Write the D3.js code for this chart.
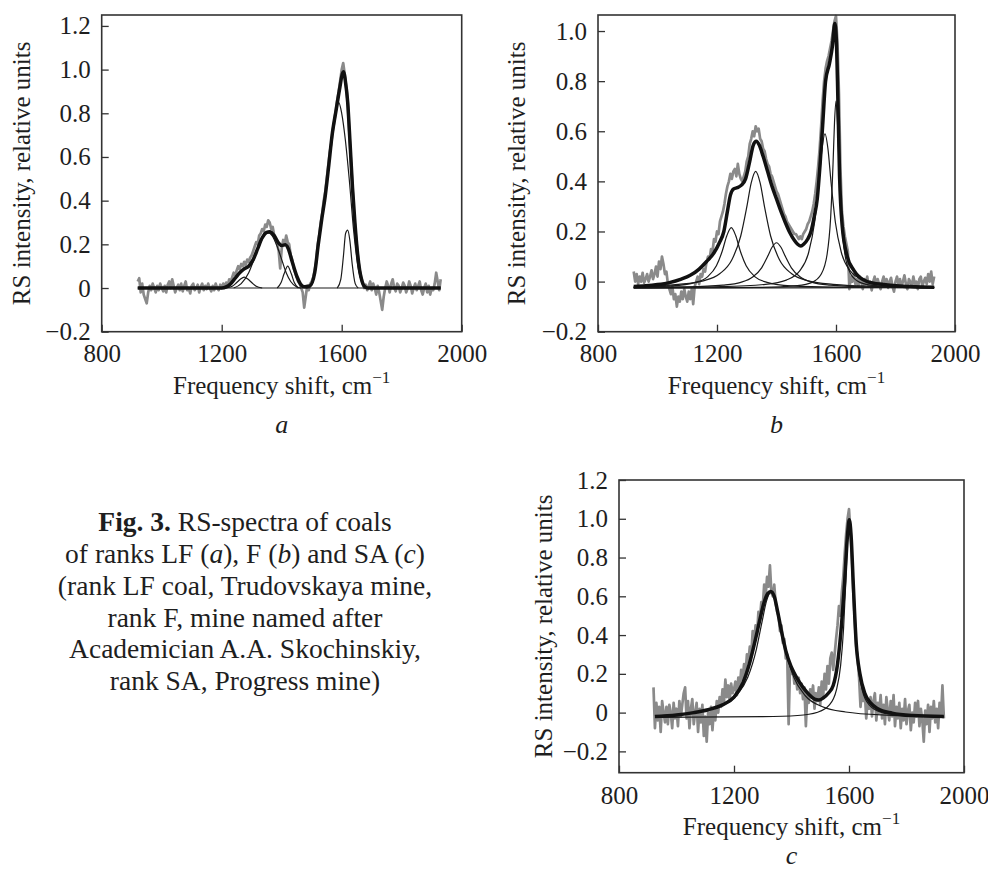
<!DOCTYPE html>
<html>
<head>
<meta charset="utf-8">
<script src="https://cdnjs.cloudflare.com/ajax/libs/d3/7.8.5/d3.min.js"></script>
<style>
body { margin: 0; background: #fff; }
svg { display: block; font-family: "Liberation Serif", "Times New Roman", serif; }
</style>
</head>
<body>
<svg id="fig" width="988" height="870" font-family="Liberation Serif, serif"></svg>
<script>
// ---- data ----
var xTicks = [800, 1200, 1600, 2000];
var yTicksA = [-0.2, 0, 0.2, 0.4, 0.6, 0.8, 1.0, 1.2];
var yTicksB = [-0.2, 0, 0.2, 0.4, 0.6, 0.8, 1.0];
var yTicksC = [-0.2, 0, 0.2, 0.4, 0.6, 0.8, 1.0, 1.2];

// measured spectra, one value every 5 cm-1 starting at 920 cm-1
var specStart = 920, specStep = 5;
var rawA = [
  0.03,0.045,-0.02,0.02,-0.03,-0.05,-0.07,-0.02,0.01,-0.01,
  0.02,0,-0.02,0.01,-0.01,0.02,0,-0.015,0.01,-0.02,
  0.015,0.03,0,0.04,0.01,-0.02,0,0.015,-0.01,0.02,
  -0.015,0.01,0.03,-0.01,0,-0.025,0.01,0.02,-0.01,0,
  0.015,-0.02,0.005,0.02,-0.01,0.01,-0.005,0.02,0,-0.015,
  0.01,-0.01,0.02,0,-0.01,0.015,0,0.02,0.005,0.025,
  0.01,0.04,0.03,0.05,0.07,0.06,0.08,0.1,0.085,0.11,
  0.1,0.12,0.105,0.13,0.12,0.14,0.15,0.17,0.19,0.21,
  0.2,0.24,0.25,0.27,0.26,0.29,0.28,0.31,0.3,0.27,
  0.28,0.24,0.22,0.2,0.17,0.09,0.18,0.22,0.2,0.24,
  0.21,0.2,0.15,0.13,0.09,0.07,0.05,0.03,0.02,0,
  -0.02,-0.09,-0.04,0.01,-0.01,0.02,0.03,0.05,0.08,0.12,
  0.2,0.24,0.3,0.34,0.4,0.44,0.5,0.56,0.62,0.66,
  0.72,0.76,0.81,0.86,0.9,0.95,1.0,1.03,0.98,0.92,
  0.85,0.72,0.6,0.48,0.36,0.27,0.2,0.13,0.08,0.05,
  0.02,0,0.015,-0.01,0.01,0.03,-0.01,0.02,0,-0.03,
  0.01,-0.02,-0.06,-0.1,-0.04,0,0.03,0.01,-0.02,0.02,
  0.04,0,-0.015,0.02,0.01,-0.02,0,0.025,0.01,-0.02,
  0,0.03,0.01,-0.025,0,0.02,-0.01,0.01,0.03,-0.01,
  -0.03,0,0.02,-0.02,0.01,-0.03,0,-0.01,0.02,0.07,
  0.03,-0.01,0.04
];
var rawB = [
  0.04,0,0.03,-0.01,0.02,0,0.035,-0.005,0.01,0.03,
  0,0.02,0.045,0.01,0.03,0.06,0.02,0.08,0.05,0.1,
  0.07,0.03,0.04,-0.01,-0.03,-0.05,-0.02,-0.07,-0.05,-0.1,
  -0.06,-0.08,-0.04,-0.07,-0.03,-0.06,-0.08,-0.04,-0.07,-0.03,
  -0.09,-0.02,0,0.02,-0.01,0.03,0.02,0.05,0.04,0.08,
  0.1,0.09,0.13,0.12,0.17,0.16,0.2,0.19,0.24,0.26,
  0.28,0.31,0.35,0.38,0.4,0.43,0.41,0.44,0.45,0.42,
  0.47,0.43,0.41,0.4,0.42,0.44,0.48,0.5,0.55,0.57,
  0.6,0.58,0.62,0.6,0.61,0.57,0.56,0.53,0.52,0.49,
  0.47,0.46,0.43,0.42,0.4,0.38,0.36,0.35,0.33,0.31,
  0.29,0.27,0.26,0.24,0.23,0.22,0.21,0.2,0.19,0.19,
  0.18,0.17,0.18,0.17,0.19,0.2,0.21,0.23,0.24,0.26,
  0.28,0.31,0.35,0.4,0.46,0.53,0.62,0.72,0.8,0.85,
  0.88,0.9,0.93,0.96,1.0,1.04,1.06,0.95,0.75,0.45,
  0.28,0.22,0.18,0.15,0.12,-0.03,0.02,0,0.03,-0.01,
  0.01,-0.02,0.02,0,-0.03,0.01,-0.01,0.02,-0.02,0,
  -0.035,0,0.02,-0.02,0.01,-0.01,-0.03,0,0.02,-0.01,
  0.01,-0.025,0,0.015,-0.02,-0.04,0,0.02,-0.01,0.01,
  -0.02,0,0.025,-0.01,-0.03,0.01,0,-0.02,0.02,-0.01,
  0,-0.03,0.01,0.02,-0.02,0,0.015,-0.01,0.03,0,
  0.04,-0.01,0.02
];
var rawC = [
  0.13,-0.08,0.05,-0.04,0.03,-0.1,0.06,0,-0.05,0.03,
  -0.06,0.04,0,-0.08,0.05,-0.03,0.02,-0.07,0.06,-0.02,
  0.04,0.1,0.13,-0.03,0.06,-0.08,0.02,0.07,-0.06,0,
  0.05,-0.1,0.02,-0.05,0.04,-0.12,-0.02,-0.15,0,-0.06,
  0.03,-0.09,0.01,-0.04,0.06,0,0.08,0.03,0.12,0.05,
  0.17,0.08,0.14,0.06,0.15,0.1,0.12,0.16,0.09,0.18,
  0.13,0.22,0.17,0.25,0.2,0.3,0.26,0.34,0.3,0.42,
  0.36,0.45,0.4,0.52,0.48,0.57,0.55,0.66,0.6,0.7,
  0.65,0.76,0.62,0.6,0.66,0.56,0.52,0.5,0.42,0.45,
  0.36,0.38,0.28,0.3,-0.06,0.24,0.2,0.22,0.15,0.19,
  0.12,0.18,0.1,0.15,0.07,0.13,-0.07,0.1,0.05,0.12,
  0.08,0.14,0.02,0.1,0.06,0.13,0.04,0.16,0.08,0.2,
  0.12,0.24,0.15,0.28,0.31,0.22,0.3,0.38,0.45,0.55,
  0.5,0.62,0.7,0.82,0.92,1.0,1.05,0.93,0.8,0.62,
  0.48,0.34,0.28,0.18,0.03,0.12,0.06,0.1,-0.03,0.07,
  0.02,0.08,-0.02,0.06,0.1,-0.04,0.05,0,0.09,-0.03,
  0.04,-0.06,0.08,0.01,-0.04,0.06,-0.02,0.09,-0.07,0.03,
  -0.03,0.05,-0.08,0.02,-0.04,0.07,-0.06,0.01,0.04,-0.09,
  0,-0.05,0.05,-0.02,0.06,-0.07,0.02,-0.04,-0.15,0.01,
  -0.06,0.04,-0.1,0.03,-0.03,0.06,-0.05,0.02,-0.08,0.05,
  -0.02,0.14,-0.03
];

// fitted envelopes [shift, intensity]
var fitA = [[920,0],[1200,0],[1215,0.005],[1230,0.02],[1245,0.045],[1260,0.07],[1275,0.088],[1290,0.1],
  [1305,0.13],[1320,0.18],[1335,0.23],[1350,0.255],[1360,0.258],[1375,0.24],[1390,0.205],[1400,0.195],
  [1412,0.198],[1422,0.18],[1435,0.12],[1450,0.055],[1462,0.02],[1475,0.006],[1494,0.01],[1510,0.07],
  [1522,0.2],[1534,0.32],[1545,0.42],[1556,0.55],[1568,0.7],[1582,0.82],[1594,0.92],[1602,0.98],
  [1607,0.99],[1612,0.95],[1620,0.85],[1628,0.66],[1636,0.46],[1644,0.3],[1652,0.17],[1660,0.08],
  [1668,0.03],[1678,0.005],[1690,0],[1930,0]];
var fitB = [[920,-0.02],[960,-0.017],[1000,-0.012],[1040,-0.004],[1080,0.01],[1110,0.025],[1140,0.05],
  [1165,0.08],[1190,0.115],[1208,0.155],[1223,0.2],[1235,0.28],[1245,0.345],[1256,0.37],[1268,0.375],
  [1282,0.385],[1296,0.41],[1310,0.48],[1322,0.545],[1332,0.56],[1342,0.545],[1355,0.5],[1370,0.44],
  [1385,0.38],[1400,0.33],[1415,0.28],[1430,0.235],[1445,0.195],[1460,0.165],[1472,0.148],[1482,0.142],
  [1492,0.15],[1505,0.17],[1516,0.2],[1527,0.26],[1537,0.33],[1546,0.46],[1555,0.62],[1565,0.8],
  [1578,0.87],[1588,0.94],[1596,1.03],[1601,0.97],[1605,0.8],[1612,0.42],[1621,0.22],[1638,0.1],
  [1660,0.045],[1705,0],[1760,-0.012],[1850,-0.02],[1930,-0.023]];
var fitC = [[925,-0.02],[1000,-0.012],[1060,0],[1110,0.015],[1160,0.04],[1200,0.08],[1230,0.15],
  [1255,0.26],[1275,0.38],[1290,0.48],[1305,0.57],[1318,0.615],[1328,0.625],[1340,0.6],[1352,0.52],
  [1365,0.42],[1380,0.32],[1398,0.24],[1418,0.18],[1440,0.13],[1460,0.095],[1480,0.07],[1495,0.065],
  [1510,0.075],[1528,0.1],[1545,0.14],[1560,0.25],[1572,0.42],[1585,0.68],[1595,0.92],[1601,0.995],
  [1607,0.92],[1615,0.66],[1625,0.36],[1638,0.2],[1655,0.1],[1675,0.05],[1700,0.02],[1750,-0.003],
  [1820,-0.015],[1930,-0.02]];

// component bands
var peakA1 = [[1215,0],[1235,0.008],[1250,0.025],[1262,0.04],[1275,0.05],[1288,0.04],[1300,0.025],[1315,0.008],[1335,0]];
var peakA2 = [[1240,0],[1265,0.02],[1290,0.07],[1310,0.14],[1330,0.21],[1345,0.245],[1355,0.252],[1368,0.24],
  [1385,0.19],[1400,0.13],[1415,0.07],[1430,0.03],[1450,0.005],[1465,0]];
var peakA3 = [[1385,0],[1398,0.025],[1408,0.065],[1420,0.1],[1432,0.065],[1442,0.025],[1455,0]];
var peakA4 = [[1480,0],[1494,0.005],[1510,0.06],[1522,0.19],[1534,0.31],[1545,0.41],[1556,0.54],[1568,0.69],
  [1580,0.8],[1590,0.85],[1600,0.8],[1612,0.68],[1625,0.5],[1640,0.26],[1655,0.09],[1670,0.02],[1685,0]];
var peakA5 = [[1585,0],[1597,0.04],[1606,0.15],[1613,0.25],[1620,0.265],[1627,0.22],[1635,0.11],[1645,0.02],[1655,0]];
var baseA = [[920,0],[1930,0]];

var peakB1 = [[920,-0.022],[1048,-0.017],[1128,-0.003],[1168,0.019],[1198,0.063],[1218,0.123],[1233,0.183],
  [1248,0.215],[1263,0.183],[1278,0.123],[1298,0.063],[1328,0.019],[1368,-0.003],[1448,-0.017],[1600,-0.022],[1930,-0.024]];
var peakB2 = [[920,-0.02],[1070,-0.011],[1150,0.002],[1210,0.032],[1250,0.087],[1280,0.183],[1300,0.297],
  [1315,0.394],[1330,0.44],[1345,0.394],[1360,0.297],[1380,0.183],[1410,0.087],[1450,0.032],[1510,0.002],
  [1590,-0.011],[1730,-0.019],[1930,-0.022]];
var peakB3 = [[920,-0.023],[1100,-0.021],[1220,-0.014],[1280,-0.003],[1320,0.018],[1350,0.055],[1370,0.1],
  [1385,0.137],[1400,0.155],[1415,0.137],[1430,0.1],[1450,0.055],[1480,0.018],[1520,-0.003],[1580,-0.014],
  [1700,-0.021],[1930,-0.024]];
var peakB4 = [[920,-0.024],[1213,-0.02],[1363,-0.011],[1433,0.006],[1478,0.043],[1508,0.116],[1528,0.236],
  [1543,0.401],[1553,0.529],[1563,0.59],[1573,0.529],[1583,0.401],[1598,0.236],[1618,0.116],[1648,0.043],
  [1693,0.006],[1763,-0.011],[1913,-0.02],[1930,-0.021]];
var peakB5 = [[920,-0.025],[1350,-0.023],[1470,-0.016],[1520,-0.003],[1550,0.029],[1570,0.108],[1582,0.256],
  [1590,0.468],[1595,0.636],[1600,0.72],[1605,0.636],[1610,0.468],[1618,0.256],[1630,0.108],[1650,0.029],
  [1680,-0.003],[1730,-0.016],[1850,-0.023],[1930,-0.024]];
var baseB = [[920,-0.026],[1930,-0.024]];

var peakC1 = [[925,-0.017],[1068,0.003],[1148,0.03],[1208,0.087],[1248,0.182],[1278,0.328],[1298,0.472],
  [1313,0.575],[1328,0.62],[1343,0.575],[1358,0.472],[1378,0.328],[1408,0.182],[1448,0.087],[1508,0.03],
  [1588,0.003],[1728,-0.013],[1930,-0.02]];
var peakC2 = [[925,-0.025],[1301,-0.021],[1421,-0.015],[1491,0.002],[1531,0.038],[1556,0.116],[1571,0.245],
  [1581,0.431],[1589,0.681],[1595,0.893],[1601,0.995],[1607,0.893],[1613,0.681],[1621,0.431],[1631,0.245],
  [1646,0.116],[1671,0.038],[1711,0.002],[1781,-0.015],[1901,-0.021],[1930,-0.022]];

var svg = d3.select('#fig');
var serif = '"Liberation Serif", "Times New Roman", serif';

var drawPanel = function(p){
    var x = d3.scaleLinear().domain([800, 2000]).range([p.left, p.right]);
    var y = d3.scaleLinear().domain(p.yDomain).range([p.bottom, p.top]);
    var g = svg.append('g').attr('font-family', serif);

    var straight = d3.line()
        .x(function(d){ return x(d[0]); })
        .y(function(d){ return y(d[1]); });
    var smooth = d3.line()
        .x(function(d){ return x(d[0]); })
        .y(function(d){ return y(d[1]); })
        .curve(d3.curveMonotoneX);

    // measured spectrum (grey)
    var rawPts = p.raw.map(function(v, i){ return [specStart + i * specStep, v]; });
    g.append('path').datum(rawPts)
        .attr('d', straight)
        .attr('fill', 'none')
        .attr('stroke', '#8a8a8a')
        .attr('stroke-width', 2.7)
        .attr('stroke-linejoin', 'round');

    // components (thin)
    p.peaks.forEach(function(pk){
        g.append('path').datum(pk)
            .attr('d', smooth)
            .attr('fill', 'none')
            .attr('stroke', '#1a1a1a')
            .attr('stroke-width', 1.2);
    });

    // fitted envelope (thick)
    g.append('path').datum(p.fit)
        .attr('d', smooth)
        .attr('fill', 'none')
        .attr('stroke', '#111')
        .attr('stroke-width', 3.5)
        .attr('stroke-linejoin', 'round');

    // frame
    g.append('rect')
        .attr('x', p.left).attr('y', p.top)
        .attr('width', p.right - p.left).attr('height', p.bottom - p.top)
        .attr('fill', 'none').attr('stroke', '#333').attr('stroke-width', 1.6);

    var fmt = function(d){ return d === 0 ? '0' : d3.format('.1f')(d); };

    var xAxis = d3.axisBottom(x).tickValues(xTicks).tickSize(-7).tickFormat(d3.format('d'));
    var gx = g.append('g').attr('transform', 'translate(0,' + p.bottom + ')').call(xAxis);
    gx.select('.domain').remove();
    gx.attr('font-family', serif).attr('font-size', null).attr('color', '#333');
    gx.selectAll('.tick line').attr('stroke-width', 1.3);
    gx.selectAll('text').attr('y', p.xLabelDy).attr('dy', null)
        .attr('font-size', 25).attr('fill', '#1e1e1e');

    var yAxis = d3.axisLeft(y).tickValues(p.yTicks).tickSize(-7).tickPadding(11).tickFormat(fmt);
    var gy = g.append('g').attr('transform', 'translate(' + p.left + ',0)').call(yAxis);
    gy.select('.domain').remove();
    gy.attr('font-family', serif).attr('font-size', null).attr('color', '#333');
    gy.selectAll('.tick line').attr('stroke-width', 1.3);
    gy.selectAll('text').attr('font-size', 25).attr('fill', '#1e1e1e');

    // axis titles
    var cx = (p.left + p.right) / 2;
    var xt = g.append('text')
        .attr('x', cx).attr('y', p.bottom + p.xTitleDy)
        .attr('text-anchor', 'middle').attr('font-size', 25).attr('fill', '#1e1e1e');
    xt.append('tspan').text('Frequency shift, cm');
    xt.append('tspan').attr('font-size', 17).attr('dy', -11).text('\u22121');

    g.append('text')
        .attr('transform', 'translate(' + p.yTitleX + ',' + ((p.top + p.bottom) / 2) + ') rotate(-90)')
        .attr('text-anchor', 'middle').attr('font-size', 25).attr('fill', '#1e1e1e')
        .text('RS intensity, relative units');

    g.append('text')
        .attr('x', cx).attr('y', p.letterY)
        .attr('text-anchor', 'middle').attr('font-size', 26).attr('font-style', 'italic')
        .attr('fill', '#1e1e1e')
        .text(p.letter);
};

drawPanel({ left: 101.7, right: 461.7, top: 15, bottom: 331.7, yDomain: [-0.2, 1.25], yTicks: yTicksA,
    raw: rawA, fit: fitA, peaks: [baseA, peakA1, peakA2, peakA3, peakA4, peakA5],
    xLabelDy: 30, xTitleDy: 62, yTitleX: 30, letter: 'a', letterY: 433 });
drawPanel({ left: 598, right: 955, top: 15, bottom: 331.7, yDomain: [-0.2, 1.064], yTicks: yTicksB,
    raw: rawB, fit: fitB, peaks: [baseB, peakB1, peakB2, peakB3, peakB4, peakB5],
    xLabelDy: 30, xTitleDy: 62, yTitleX: 525, letter: 'b', letterY: 433 });
drawPanel({ left: 619, right: 964, top: 480, bottom: 772.7, yDomain: [-0.31, 1.2], yTicks: yTicksC,
    raw: rawC, fit: fitC, peaks: [peakC1, peakC2],
    xLabelDy: 31, xTitleDy: 62, yTitleX: 552, letter: 'c', letterY: 864 });

// caption
var capLines = [
    [['Fig. 3.', 'bold'], [' RS-spectra of coals', '']],
    [['of ranks LF (', ''], ['a', 'italic'], ['), F (', ''], ['b', 'italic'], [') and SA (', ''], ['c', 'italic'], [')', '']],
    [['(rank LF coal, Trudovskaya mine,', '']],
    [['rank F, mine named after', '']],
    [['Academician A.A. Skochinskiy,', '']],
    [['rank SA, Progress mine)', '']]
];
var capBaselines = [531, 563, 595, 627, 658, 690];
capLines.forEach(function(parts, i){
    var t = svg.append('text')
        .attr('x', 245).attr('y', capBaselines[i])
        .attr('font-family', serif)
        .attr('text-anchor', 'middle').attr('font-size', 27.5).attr('fill', '#1e1e1e');
    parts.forEach(function(pt){
        var s = t.append('tspan').text(pt[0]);
        if(pt[1] == 'bold') s.attr('font-weight', 'bold');
        if(pt[1] == 'italic') s.attr('font-style', 'italic');
    });
});
</script>
</body>
</html>
